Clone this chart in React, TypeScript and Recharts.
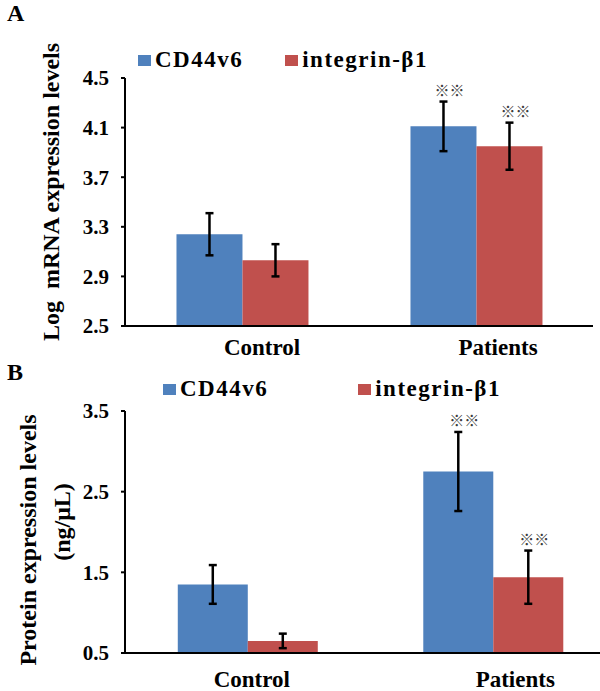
import React from 'react';
import {
  BarChart,
  Bar,
  XAxis,
  YAxis,
  Legend,
  ErrorBar,
  LabelList,
} from 'recharts';

const groups = ["Control", "Patients"];

// panel A: log mRNA
const mrnaCd44 = [3.24, 4.11];
const mrnaCd44Err = [0.17, 0.2];
const mrnaItg = [3.03, 3.95];
const mrnaItgErr = [0.13, 0.19];
const mrnaTicks = [2.5, 2.9, 3.3, 3.7, 4.1, 4.5];

// panel B: protein ng/uL
const protCd44 = [1.35, 2.75];
const protCd44Err = [0.24, 0.49];
const protItg = [0.65, 1.44];
const protItgErr = [0.09, 0.33];
const protTicks = [0.5, 1.5, 2.5, 3.5];

const sigMarks = ["", "※※"];

const BLUE = '#4F81BD';
const RED = '#C0504D';
const SERIF = '"Liberation Serif", "Times New Roman", serif';

const mrnaData = groups.map((g, i) => ({
  name: g,
  cd44: mrnaCd44[i], cd44Err: mrnaCd44Err[i],
  itg: mrnaItg[i], itgErr: mrnaItgErr[i],
}));

const protData = groups.map((g, i) => ({
  name: g,
  cd44: protCd44[i], cd44Err: protCd44Err[i],
  itg: protItg[i], itgErr: protItgErr[i],
}));

// ※※ above the error bar, uses the bar's own pixel height to find the px/unit
const sigLabel = (vals: number[], errs: number[], base: number) => (props: any) => {
  const { x, y, width, height, index } = props;
  if (!sigMarks[index]) return null;
  const pxPerUnit = height / (vals[index] - base);
  const top = y - errs[index] * pxPerUnit;
  return (
    <text x={x + width / 2 + 6} y={top - 12} textAnchor="middle" dominantBaseline="central"
      fontSize={15} fill="#3a3a3a" fontFamily='"Noto Sans CJK SC", sans-serif'>
      {sigMarks[index]}
    </text>
  );
};

const XTick = (props: any) => {
  const { x, y, payload, index, offsets, drop } = props;
  return (
    <text x={x + offsets[index]} y={y + drop} textAnchor="middle"
      fontFamily={SERIF} fontWeight="bold" fontSize={23} fill="#000">
      {payload.value}
    </text>
  );
};

const LegendBox = ({ payload, gap }: any) => (
  <div style={{ display: 'flex', alignItems: 'center', fontFamily: SERIF, fontWeight: 'bold', fontSize: 23, letterSpacing: 1.5, color: '#000', whiteSpace: 'nowrap' }}>
    {(payload || []).map((p: any, i: number) => (
      <div key={p.value} style={{ display: 'flex', alignItems: 'center', marginRight: i === 0 ? gap : 0 }}>
        <span style={{ display: 'inline-block', width: 13, height: 11, background: p.color, marginRight: 4 }} />
        <span>{p.value}</span>
      </div>
    ))}
  </div>
);

const tickStyle = { fontFamily: SERIF, fontWeight: 'bold', fontSize: 21, fill: '#000' };

export default function App() {
  return (
    <div style={{ position: 'absolute', left: 0, top: 0, width: 600, height: 691, background: '#fff', overflow: 'hidden' }}>
      <div style={{ position: 'absolute', left: 7, top: 1, fontFamily: SERIF, fontWeight: 'bold', fontSize: 24, lineHeight: '24px' }}>A</div>
      <div style={{ position: 'absolute', left: 7, top: 360, fontFamily: SERIF, fontWeight: 'bold', fontSize: 24, lineHeight: '24px' }}>B</div>

      {/* Panel A */}
      <div style={{ position: 'absolute', left: 0, top: 0 }}>
        <BarChart width={600} height={370} data={mrnaData} barCategoryGap="22%" barGap={0}
          margin={{ top: 78, right: 7, left: 0, bottom: 0 }}>
          <XAxis dataKey="name" height={44} axisLine={{ stroke: '#000', strokeWidth: 2 }} tickLine={false}
            tickSize={0} tickMargin={0} interval={0}
            tick={<XTick offsets={[20, 22]} drop={29} />} />
          <YAxis width={125} domain={[2.5, 4.5]} ticks={mrnaTicks} interval={0} allowDataOverflow
            tickFormatter={(v: number) => v.toFixed(1)} tick={tickStyle}
            axisLine={{ stroke: '#000', strokeWidth: 2 }} tickLine={{ stroke: '#000', strokeWidth: 2 }}
            tickSize={4} tickMargin={12}
            label={{
              content: ({ viewBox }: any) => {
                const cx = 51;
                const cy = viewBox.y + viewBox.height / 2 - 10;
                return (
                  <text x={cx} y={cy} transform={`rotate(-90, ${cx}, ${cy})`} textAnchor="middle"
                    dominantBaseline="central" fontFamily={SERIF} fontWeight="bold" fontSize={24}
                    fill="#000" style={{ whiteSpace: 'pre' }}>
                    {'Log  mRNA expression levels'}
                  </text>
                );
              },
            }} />
          <Legend layout="horizontal" verticalAlign="middle" align="center"
            wrapperStyle={{ top: 47, left: 138, width: 'auto' }}
            content={(p: any) => <LegendBox payload={p.payload} gap={42} />} />
          <Bar dataKey="cd44" name="CD44v6" fill={BLUE} isAnimationActive={false}>
            <ErrorBar dataKey="cd44Err" width={4} stroke="#000" strokeWidth={2.5} />
            <LabelList dataKey="cd44" content={sigLabel(mrnaCd44, mrnaCd44Err, 2.5)} />
          </Bar>
          <Bar dataKey="itg" name="integrin-β1" fill={RED} isAnimationActive={false}>
            <ErrorBar dataKey="itgErr" width={4} stroke="#000" strokeWidth={2.5} />
            <LabelList dataKey="itg" content={sigLabel(mrnaItg, mrnaItgErr, 2.5)} />
          </Bar>
        </BarChart>
      </div>

      {/* Panel B */}
      <div style={{ position: 'absolute', left: 0, top: 360, width: 600, height: 331, overflow: 'hidden' }}>
        <BarChart width={620} height={331} data={protData} barCategoryGap="21.5%" barGap={0}
          margin={{ top: 51, right: 4, left: 0, bottom: 0 }}>
          <XAxis dataKey="name" height={38} axisLine={{ stroke: '#000', strokeWidth: 2 }} tickLine={false}
            tickSize={0} tickMargin={0} interval={0}
            tick={<XTick offsets={[4, 22]} drop={34} />} />
          <YAxis width={125} domain={[0.5, 3.5]} ticks={protTicks} interval={0} allowDataOverflow
            tickFormatter={(v: number) => v.toFixed(1)} tick={tickStyle}
            axisLine={{ stroke: '#000', strokeWidth: 2 }} tickLine={{ stroke: '#000', strokeWidth: 2 }}
            tickSize={4} tickMargin={12}
            label={{
              content: ({ viewBox }: any) => {
                const mid = viewBox.y + viewBox.height / 2;
                const x1 = 28, y1 = mid + 8;
                const x2 = 62, y2 = mid - 10;
                return (
                  <g fontFamily={SERIF} fontWeight="bold" fontSize={24} fill="#000">
                    <text x={x1} y={y1} transform={`rotate(-90, ${x1}, ${y1})`} textAnchor="middle" dominantBaseline="central">
                      Protein expression levels
                    </text>
                    <text x={x2} y={y2} transform={`rotate(-90, ${x2}, ${y2})`} textAnchor="middle" dominantBaseline="central">
                      (ng/μL)
                    </text>
                  </g>
                );
              },
            }} />
          <Legend layout="horizontal" verticalAlign="middle" align="center"
            wrapperStyle={{ top: 16, left: 163, width: 'auto' }}
            content={(p: any) => <LegendBox payload={p.payload} gap={90} />} />
          <Bar dataKey="cd44" name="CD44v6" fill={BLUE} isAnimationActive={false}>
            <ErrorBar dataKey="cd44Err" width={4} stroke="#000" strokeWidth={2.5} />
            <LabelList dataKey="cd44" content={sigLabel(protCd44, protCd44Err, 0.5)} />
          </Bar>
          <Bar dataKey="itg" name="integrin-β1" fill={RED} isAnimationActive={false}>
            <ErrorBar dataKey="itgErr" width={4} stroke="#000" strokeWidth={2.5} />
            <LabelList dataKey="itg" content={sigLabel(protItg, protItgErr, 0.5)} />
          </Bar>
        </BarChart>
      </div>
    </div>
  );
}
